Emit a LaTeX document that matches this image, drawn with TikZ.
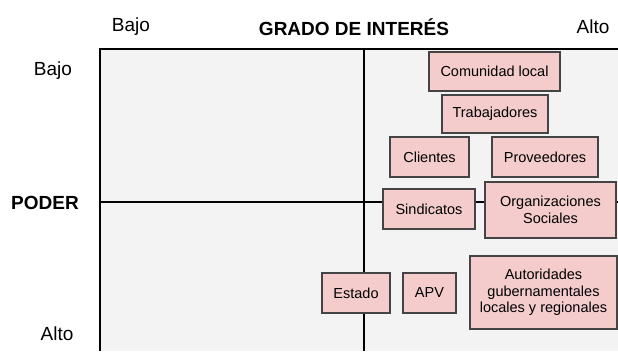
\documentclass[tikz,border=0pt]{standalone}
\usepackage{fontspec}
\setmainfont{Liberation Sans}
\usetikzlibrary{positioning}
\definecolor{gridgray}{HTML}{F3F3F3}
\definecolor{boxpink}{HTML}{F4CCCC}
\definecolor{boxline}{HTML}{444444}
\tikzset{
matrixplot/.style={
    x=1pt,
    y=-1pt,
    inner sep=0pt,
    outer sep=0pt
},
axisline/.style={
    draw=black,
    line width=1.4pt
},
heading/.style={
    font=\fontsize{19}{22}\selectfont,
    anchor=center
},
actor/.style={
    draw=boxline,
    fill=boxpink,
    line width=1.1pt,
    align=center,
    font=\fontsize{14.5}{16.5}\selectfont
}}

\begin{document}
\begin{tikzpicture}[matrixplot]
\useasboundingbox (0,0) rectangle (618,351);
% quadrant area
\fill[gridgray] (100,49) rectangle (618,351);
\coordinate (tl) at (100,49);
\coordinate (tr) at (618,49);
\coordinate (bl) at (100,351);
\coordinate (mt) at (364,49);
\coordinate (mb) at (364,351);
\coordinate (ml) at (100,202);
\coordinate (mr) at (618,202);
\draw[axisline] (bl) -- (tl) -- (tr);
\draw[axisline] (mt) -- (mb);
\draw[axisline] (ml) -- (mr);

% axis labels
\node[heading]  (xlow)   at (131,27)  {Bajo};
\node[heading]  (xname)  at (354,27)  {\bfseries GRADO DE INTERÉS};
\node[heading]  (xhigh)  at (593,27)  {Alto};
\node[heading]  (ylow)   at (53,71)   {Bajo};
\node[heading]  (yname)  at (45,203)  {\bfseries PODER};
\node[heading]  (yhigh)  at (57,334)  {Alto};

% stakeholders
\node[actor, minimum width=131pt, minimum height=39pt]  (comunidad)  at (494.5,71.5)  {Comunidad local};
\node[actor, minimum width=106pt, minimum height=38pt]  (trabaj)     at (495,114)     {Trabajadores};
\node[actor, minimum width=79pt,  minimum height=40pt]  (clientes)   at (429.5,157)   {Clientes};
\node[actor, minimum width=106pt, minimum height=40pt]  (proveed)    at (545,157)     {Proveedores};
\node[actor, minimum width=92pt,  minimum height=40pt]  (sindic)     at (429,209)     {Sindicatos};
\node[actor, minimum width=131pt, minimum height=56pt]  (orgsoc)     at (550.5,210)   {Organizaciones\\Sociales};
\node[actor, minimum width=68pt,  minimum height=40pt]  (estado)     at (356,293)     {Estado};
\node[actor, minimum width=53pt,  minimum height=40pt]  (apv)        at (429.5,293)   {APV};
\node[actor, minimum width=147pt, minimum height=73pt]  (autorid)    at (543.5,292.5) {Autoridades\\gubernamentales\\locales y regionales};
\end{tikzpicture}
\end{document}
